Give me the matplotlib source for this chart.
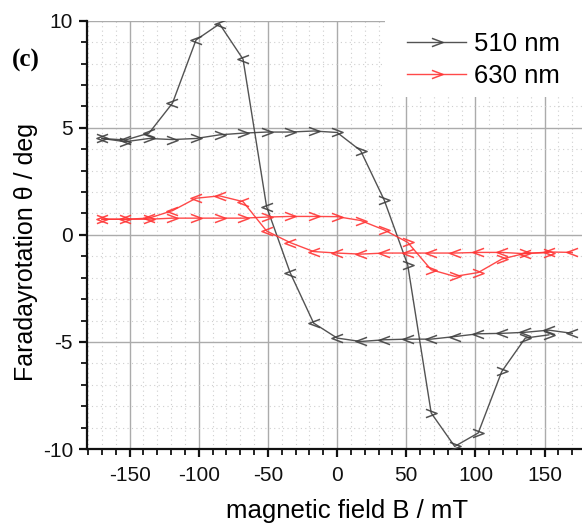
import matplotlib
matplotlib.use("Agg")
import matplotlib.pyplot as plt
from matplotlib.path import Path
from matplotlib.ticker import MultipleLocator
from matplotlib.lines import Line2D
from matplotlib.patches import Rectangle

plt.rcParams['font.family'] = ['Liberation Sans', 'DejaVu Sans']
plt.rcParams['axes.unicode_minus'] = False

# ---- data ----
field_up = [-170, -153, -136, -119, -102, -85, -68, -51, -34, -17, 0,
            17, 34, 51, 68, 85, 102, 119, 136, 153]
field_down = [170, 153, 136, 119, 102, 85, 68, 51, 34, 17, 0,
              -17, -34, -51, -68, -85, -102, -119, -136, -153, -170]

rot510_up = [4.5, 4.35, 4.5, 4.45, 4.5, 4.67, 4.75, 4.8, 4.8, 4.85, 4.78,
             3.93, 1.63, -1.4, -8.32, -9.88, -9.25, -6.38, -4.82, -4.67]
rot510_down = [-4.6, -4.45, -4.55, -4.6, -4.62, -4.75, -4.87, -4.87, -4.9, -4.98, -4.82,
               -4.12, -1.76, 1.32, 8.2, 9.85, 9.1, 6.15, 4.75, 4.43, 4.5]

rot630_up = [0.73, 0.73, 0.73, 0.78, 0.78, 0.78, 0.78, 0.83, 0.86, 0.86, 0.85,
             0.67, 0.23, -0.35, -1.63, -1.94, -1.76, -1.13, -0.86, -0.83]
rot630_down = [-0.82, -0.8, -0.88, -0.82, -0.82, -0.85, -0.85, -0.85, -0.85, -0.9, -0.85,
               -0.78, -0.36, 0.18, 1.55, 1.82, 1.71, 1.13, 0.78, 0.73, 0.73]

labels = ['510 nm', '630 nm']
colors = ['#404040', '#ff3535']

# chevron markers
right_chev = Path([(-1, 0.75), (1, 0), (-1, -0.75)], [Path.MOVETO, Path.LINETO, Path.LINETO])
left_chev = Path([(1, 0.75), (-1, 0), (1, -0.75)], [Path.MOVETO, Path.LINETO, Path.LINETO])

W, H = 582, 529
fig = plt.figure(figsize=(W / 100, H / 100), dpi=100)
ax_l, ax_r, ax_t, ax_b = 87, 582, 20.7, 449
aw, ah = ax_r - ax_l, ax_b - ax_t
ax = fig.add_axes([ax_l / W, 1 - ax_b / H, aw / W, ah / H])

series = [(rot510_up, rot510_down), (rot630_up, rot630_down)]
for (up, down), c in zip(series, colors):
    ax.plot(field_up, up, color=c, lw=1.0, marker=right_chev, ms=8,
            mfc='none', mec=c, mew=1.1, alpha=0.9, zorder=3)
    ax.plot(field_down, down, color=c, lw=1.0, marker=left_chev, ms=8,
            mfc='none', mec=c, mew=1.1, alpha=0.9, zorder=3)

ax.set_xlim(-180.8, 177)
ax.set_ylim(-10, 10)
ax.xaxis.set_major_locator(MultipleLocator(50))
ax.xaxis.set_minor_locator(MultipleLocator(10))
ax.yaxis.set_major_locator(MultipleLocator(5))
ax.yaxis.set_minor_locator(MultipleLocator(1))

ax.grid(which='major', color='#ababab', lw=1.0, ls='-', zorder=0)
ax.grid(which='minor', color='#cfcfcf', lw=0.8, ls=(0, (1, 3)), zorder=0)
ax.set_axisbelow(True)

for s in ['top', 'right']:
    ax.spines[s].set_visible(False)
for s in ['left', 'bottom']:
    ax.spines[s].set_linewidth(1.6)
    ax.spines[s].set_color('#111111')

ax.tick_params(which='major', direction='out', length=6, width=1.6, labelsize=15,
               colors='#111111')
ax.tick_params(axis='x', which='major', pad=6)
ax.tick_params(axis='y', which='major', pad=4)
ax.tick_params(which='minor', direction='out', length=4, width=1.3, colors='#111111')

ax.set_xlabel('magnetic field B / mT', fontsize=18.5)
ax.xaxis.set_label_coords((347 - ax_l) / aw, -(499 - ax_b) / ah)
ax.set_ylabel('Faradayrotation θ / deg', fontsize=18)
ax.yaxis.set_label_coords(-(ax_l - 38) / aw, (ax_b - 252) / ah)

# white legend backing box (covers grid)
box_x0, box_y1 = 385, 97
ax.add_patch(Rectangle(((box_x0 - ax_l) / aw, 1 - (box_y1 - ax_t) / ah),
                       (ax_r - box_x0) / aw, (box_y1 - ax_t) / ah,
                       transform=ax.transAxes, facecolor='white', edgecolor='none',
                       zorder=2, clip_on=False))

handles = [Line2D([0], [0], color=c, lw=1.0, marker=right_chev, ms=8, mfc='none',
                  mec=c, mew=1.1, alpha=0.9) for c in colors]
leg = ax.legend(handles, labels, loc='upper left',
                bbox_to_anchor=(407 / W, 1 - 32 / H), bbox_transform=fig.transFigure,
                fontsize=18.5, frameon=False, handlelength=2.3, borderaxespad=0.0,
                borderpad=0.0, handletextpad=0.3, labelspacing=0.33)
leg.set_zorder(5)

fig.text(12 / W, 1 - 67 / H, '(c)', fontsize=18, fontweight='bold',
         family=['Liberation Serif', 'DejaVu Serif'])

fig.savefig('out.png', dpi=100)
